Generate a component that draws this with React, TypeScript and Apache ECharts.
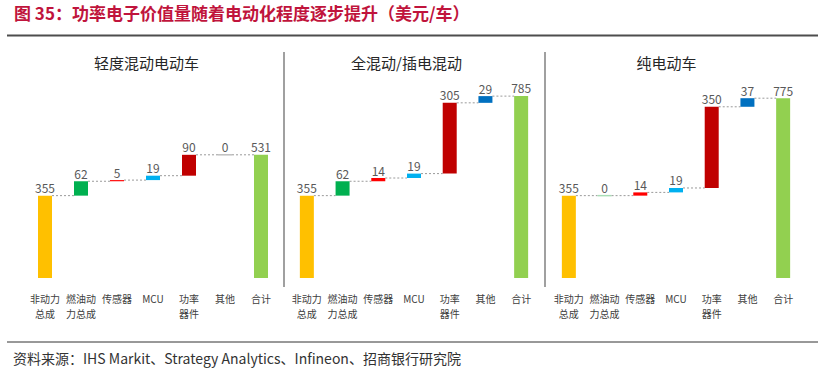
import React, { useEffect, useRef } from "react";
import * as echarts from "echarts";

const categories = ["非动力\n总成", "燃油动\n力总成", "传感器", "MCU", "功率\n器件", "其他", "合计"];
const mildHybrid = [355, 62, 5, 19, 90, 0, 531];
const fullHybrid = [355, 62, 14, 19, 305, 29, 785];
const pureElectric = [355, 0, 14, 19, 350, 37, 775];
const panelTitles = ["轻度混动电动车", "全混动/插电混动", "纯电动车"];
const barColors = ["#FFC000", "#00B050", "#FF0000", "#00B0F0", "#C00000", "#0070C0", "#92D050"];
const zeroColors = ["#FFE08A", "#A8DDB5", "#FF9A9A", "#9ADDF7", "#E09A9A", "#BFBFBF", "#C8E8A7"];
const chartTitle = "图 35：功率电子价值量随着电动化程度逐步提升（美元/车）";
const sourceText = "资料来源：IHS Markit、Strategy Analytics、Infineon、招商银行研究院";

const panels = [mildHybrid, fullHybrid, pureElectric];
const FONT = "'Noto Sans CJK SC', 'Noto Sans', sans-serif";

export default function App() {
  const ref = useRef<HTMLDivElement>(null);
  useEffect(() => {
    document.body.style.margin = "0";
    const chart = echarts.init(ref.current!, null, { renderer: "svg" });
    const gridLefts = [27, 289, 551];
    const gridWidths = [252, 250, 250];
    const grids: any[] = [];
    const xAxes: any[] = [];
    const yAxes: any[] = [];
    const series: any[] = [];
    panels.forEach((vals, k) => {
      grids.push({ left: gridLefts[k], width: gridWidths[k], top: 92.4, bottom: 98, containLabel: false });
      xAxes.push({
        type: "category",
        gridIndex: k,
        data: categories,
        axisLine: { show: false },
        axisTick: { show: false },
        axisLabel: { interval: 0, fontSize: 10, color: "#404040", lineHeight: 15, margin: 13, fontFamily: FONT },
      });
      yAxes.push({ type: "value", gridIndex: k, min: 0, max: 800, show: false, splitLine: { show: false } });
      const base: number[] = [];
      let cum = 0;
      vals.forEach((v, i) => {
        if (i === vals.length - 1) base.push(0);
        else {
          base.push(cum);
          cum += v;
        }
      });
      series.push({
        type: "bar",
        xAxisIndex: k,
        yAxisIndex: k,
        stack: "s" + k,
        barWidth: 14,
        silent: true,
        itemStyle: { color: "rgba(0,0,0,0)" },
        data: base,
      });
      series.push({
        type: "bar",
        xAxisIndex: k,
        yAxisIndex: k,
        stack: "s" + k,
        barWidth: 14,
        data: vals.map((v, i) => ({ value: v, itemStyle: { color: barColors[i] } })),
        label: {
          show: true,
          position: "top",
          distance: 2,
          fontSize: 12,
          color: "#595959",
          fontFamily: FONT,
        },
      });
      const connectors = vals.slice(0, vals.length - 1).map((v, i) => [i, base[i] + v]);
      series.push({
        type: "custom",
        xAxisIndex: k,
        yAxisIndex: k,
        silent: true,
        encode: { x: 0, y: 1 },
        data: connectors,
        renderItem: (params: any, api: any) => {
          const i = api.value(0);
          const lvl = api.value(1);
          const p = api.coord([i, lvl]);
          const band = api.size([1, 0])[0];
          const children: any[] = [
            {
              type: "line",
              shape: { x1: p[0] + 7, y1: p[1], x2: p[0] + band - 7, y2: p[1] },
              style: { stroke: "#9A9A9A", lineWidth: 1, lineDash: [2, 2] },
            },
          ];
          if (vals[i + 1] === 0) {
            children.push({
              type: "line",
              shape: { x1: p[0] + band - 7, y1: p[1], x2: p[0] + band + 7, y2: p[1] },
              style: { stroke: zeroColors[i + 1], lineWidth: 1.5 },
            });
          }
          return { type: "group", children };
        },
      });
    });

    const titleCenters = [146.5, 406.5, 666.5];
    const graphic: any[] = [
      {
        type: "text",
        left: 14,
        top: 4,
        style: { text: chartTitle, fontSize: 17, fontWeight: "bold", fill: "#C0143C", fontFamily: FONT },
      },
      {
        type: "line",
        shape: { x1: 7, y1: 35.5, x2: 818, y2: 35.5 },
        style: { stroke: "#4D4D4D", lineWidth: 2 },
      },
      {
        type: "line",
        shape: { x1: 7, y1: 342, x2: 818, y2: 342 },
        style: { stroke: "#333333", lineWidth: 1 },
      },
      {
        type: "text",
        left: 13,
        top: 351,
        style: { text: sourceText, fontSize: 14, fill: "#333333", fontFamily: FONT },
      },
      {
        type: "line",
        shape: { x1: 284, y1: 52, x2: 284, y2: 287 },
        style: { stroke: "#808080", lineWidth: 1.5 },
      },
      {
        type: "line",
        shape: { x1: 545, y1: 52, x2: 545, y2: 287 },
        style: { stroke: "#808080", lineWidth: 1.5 },
      },
    ];
    panelTitles.forEach((t, k) => {
      graphic.push({
        type: "text",
        x: titleCenters[k],
        y: 62,
        style: {
          text: t,
          fontSize: 15,
          fill: "#262626",
          fontFamily: FONT,
          align: "center",
          verticalAlign: "middle",
        },
      });
    });

    chart.setOption({
      animation: false,
      backgroundColor: "#FFFFFF",
      grid: grids,
      xAxis: xAxes,
      yAxis: yAxes,
      series,
      graphic,
    });
    return () => chart.dispose();
  }, []);
  return <div ref={ref} style={{ width: 825, height: 376 }} />;
}
